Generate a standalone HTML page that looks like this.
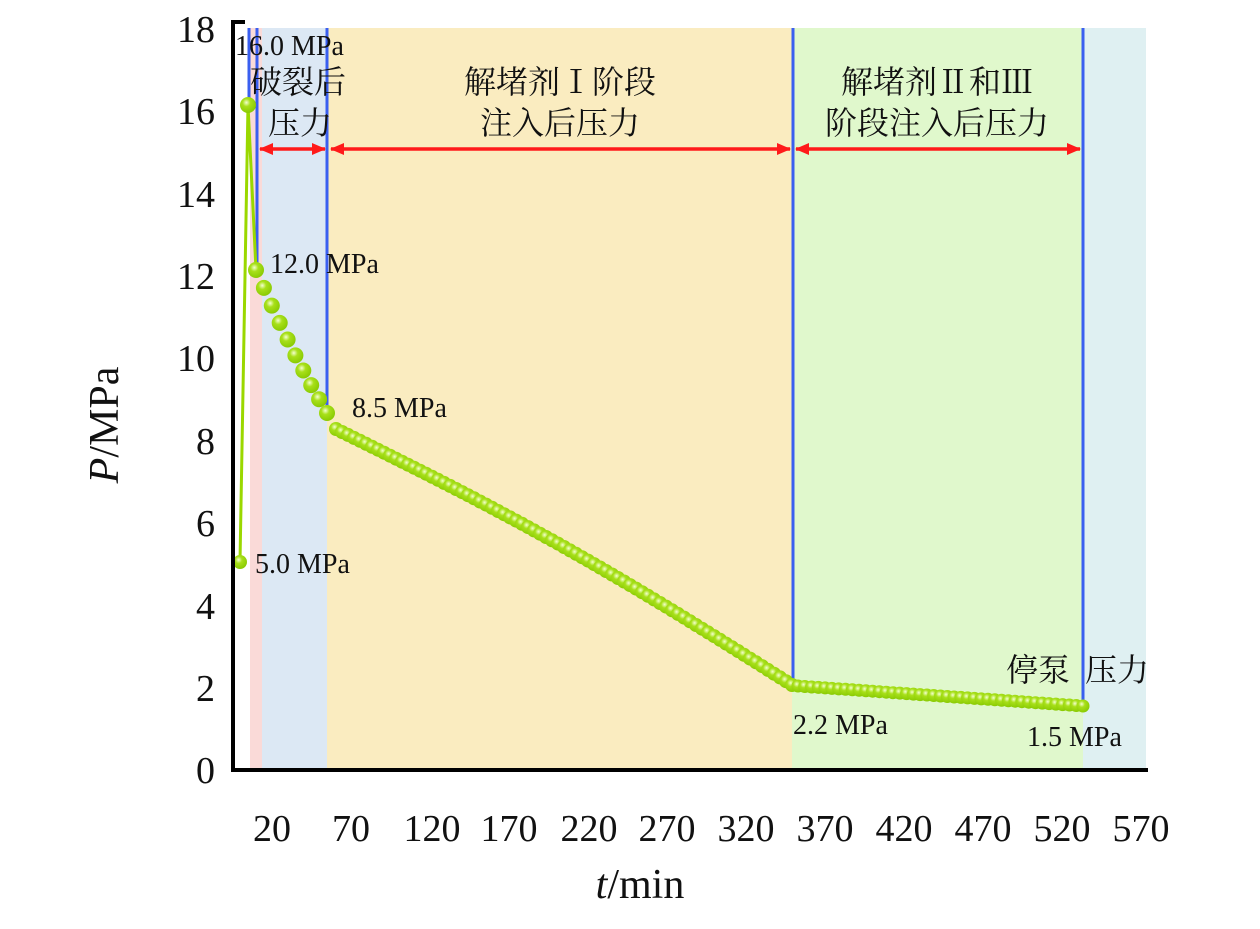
<!DOCTYPE html>
<html><head><meta charset="utf-8"><style>
html,body{margin:0;padding:0;background:#fff}
svg text{font-family:"Liberation Serif","Noto Serif CJK SC","Noto Sans CJK SC",serif;fill:#111}
</style></head><body>
<svg id="s" width="1260" height="924" viewBox="0 0 1260 924" xmlns="http://www.w3.org/2000/svg">
<defs>
<radialGradient id="g" cx="0.4" cy="0.35" r="0.7">
<stop offset="0" stop-color="#f4ffd0"/><stop offset="0.35" stop-color="#a8e01a"/><stop offset="1" stop-color="#86c800"/>
</radialGradient>
<marker id="ah" markerWidth="14" markerHeight="14" refX="13" refY="7" orient="auto-start-reverse" markerUnits="userSpaceOnUse">
<path d="M0,1 L14,7 L0,13 z" fill="#ff1a1a"/></marker>
</defs>
<rect x="250" y="28" width="12" height="741" fill="#fadad8"/>
<rect x="262" y="28" width="65" height="741" fill="#dce8f4"/>
<rect x="327" y="28" width="465" height="741" fill="#faecc0"/>
<rect x="792" y="28" width="291" height="741" fill="#e0f8cc"/>
<rect x="1083" y="28" width="63" height="741" fill="#dff0f2"/>
<g stroke="#3a5ff0" stroke-width="3">
<line x1="249" y1="28" x2="249" y2="105"/>
<line x1="257" y1="28" x2="257" y2="270"/>
<line x1="327" y1="28" x2="327" y2="413"/>
<line x1="793" y1="28" x2="793" y2="685"/>
<line x1="1083" y1="28" x2="1083" y2="706"/>
</g>
<g stroke="#ff1a1a" stroke-width="3.5">
<line x1="260" y1="149" x2="325" y2="149" marker-start="url(#ah)" marker-end="url(#ah)"/>
<line x1="331" y1="149" x2="790" y2="149" marker-start="url(#ah)" marker-end="url(#ah)"/>
<line x1="796" y1="149" x2="1080" y2="149" marker-start="url(#ah)" marker-end="url(#ah)"/>
</g>
<polyline points="240,562 248,105 256,270" fill="none" stroke="#9ad800" stroke-width="3"/>
<g id="dots"></g>
<path d="M245,22 L233,22 L233,770 L1148,770" fill="none" stroke="#000" stroke-width="4"/>
<g font-size="38" text-anchor="end">
<text x="215" y="783">0</text><text x="215" y="701">2</text><text x="215" y="619">4</text>
<text x="215" y="536">6</text><text x="215" y="454">8</text><text x="215" y="371">10</text>
<text x="215" y="289">12</text><text x="215" y="207">14</text><text x="215" y="124">16</text>
<text x="215" y="42">18</text>
</g>
<g font-size="38" text-anchor="middle">
<text x="272" y="841">20</text><text x="351" y="841">70</text><text x="432" y="841">120</text>
<text x="509" y="841">170</text><text x="589" y="841">220</text><text x="667" y="841">270</text>
<text x="746" y="841">320</text><text x="825" y="841">370</text><text x="904" y="841">420</text>
<text x="983" y="841">470</text><text x="1062" y="841">520</text><text x="1141" y="841">570</text>
</g>
<text font-size="42" text-anchor="middle" transform="translate(118,425) rotate(-90)"><tspan font-style="italic">P</tspan>/MPa</text>
<text font-size="42" text-anchor="middle" x="640" y="898"><tspan font-style="italic">t</tspan>/min</text>
<g font-size="28">
<text x="235" y="55">16.0 MPa</text>
<text x="270" y="273">12.0 MPa</text>
<text x="352" y="417">8.5 MPa</text>
<text x="255" y="573">5.0 MPa</text>
<text x="793" y="734">2.2 MPa</text>
<text x="1027" y="746">1.5 MPa</text>
</g>
<g font-size="32" text-anchor="middle">
<text x="298" y="93">破裂后</text>
<text x="300" y="134">压力</text>
<text x="560" y="93">解堵剂Ⅰ阶段</text>
<text x="560" y="134">注入后压力</text>
<text x="937" y="93">解堵剂Ⅱ和Ⅲ</text>
<text x="937" y="134">阶段注入后压力</text>
<text x="1038" y="681">停泵</text>
<text x="1117" y="681">压力</text>
</g>
</svg>
<script>
var g=document.getElementById('dots'),h='';
function d(x,y,r){h+='<circle cx="'+x.toFixed(1)+'" cy="'+y.toFixed(1)+'" r="'+r+'" fill="url(#g)"/>';}
d(240,562,7);d(248,105,8);
for(var i=0;i<=9;i++){var t=i/9;d(256+t*71,270+t*143+Math.sin(t*Math.PI)*6,8);}
var n=76;for(var i=0;i<=n;i++){var t=i/n;d(336+t*456,429+t*256-Math.sin(t*Math.PI)*10,7);}
n=42;for(var i=0;i<=n;i++){var t=i/n;d(798+t*285,686+t*20,6.5);}
g.innerHTML=h;
</script>
</body></html>
